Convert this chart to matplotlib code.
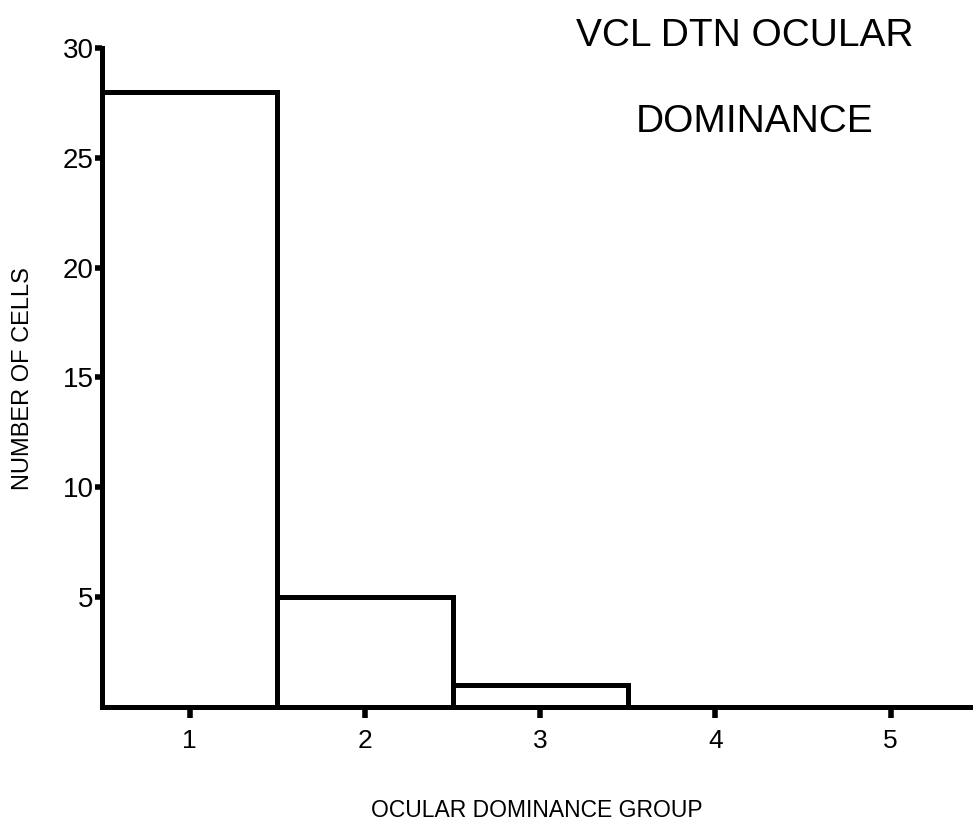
"""
Ocular dominance histogram for VCL DTN cells.
"""
import matplotlib
matplotlib.use("Agg")
import matplotlib.pyplot as plt

# ── Data ───────────────────────────────────────────────────────────────────────
groups = [1, 2, 3, 4, 5]
n_cells = [28, 5, 1, 0, 0]
y_ticks = [5, 10, 15, 20, 25, 30]

LW = 3.6
FONT = "Liberation Sans"

fig = plt.figure(figsize=(9.73, 8.26), dpi=100)
fig.patch.set_facecolor("white")
ax = fig.add_axes([0.105, 0.144, 0.895, 0.798])

ax.bar(groups, n_cells, width=1.0, color="white", edgecolor="black",
       linewidth=LW, zorder=2, capstyle="projecting", joinstyle="miter")

ax.set_xlim(0.5, 5.47)
ax.set_ylim(0, 30)

for side in ("top", "right"):
    ax.spines[side].set_visible(False)
for side in ("left", "bottom"):
    ax.spines[side].set_linewidth(LW)
    ax.spines[side].set_capstyle("projecting")
    ax.spines[side].set_zorder(3)

ax.set_xticks(groups)
ax.set_xticklabels([str(g) for g in groups], fontsize=19, family=FONT)
ax.set_yticks(y_ticks)
ax.set_yticklabels([str(t) for t in y_ticks], fontsize=20, family=FONT)
ax.tick_params(axis="x", direction="out", length=8, width=4, pad=8, color="black")
ax.tick_params(axis="y", direction="out", length=5, width=4, pad=1, color="black")

# axis labels placed directly in figure coordinates
fig.text(0.552, 0.019, "OCULAR DOMINANCE GROUP", fontsize=16.5, family=FONT,
         ha="center", va="center")
fig.text(0.024, 0.542, "NUMBER OF CELLS", fontsize=17, family=FONT,
         ha="center", va="center", rotation=90)

# two-line title inside the upper right corner
fig.text(0.765, 0.957, "VCL DTN OCULAR", fontsize=28, family=FONT,
         ha="center", va="center")
fig.text(0.776, 0.852, "DOMINANCE", fontsize=28, family=FONT,
         ha="center", va="center")

plt.savefig("out.png", dpi=100, facecolor="white")
plt.close()
